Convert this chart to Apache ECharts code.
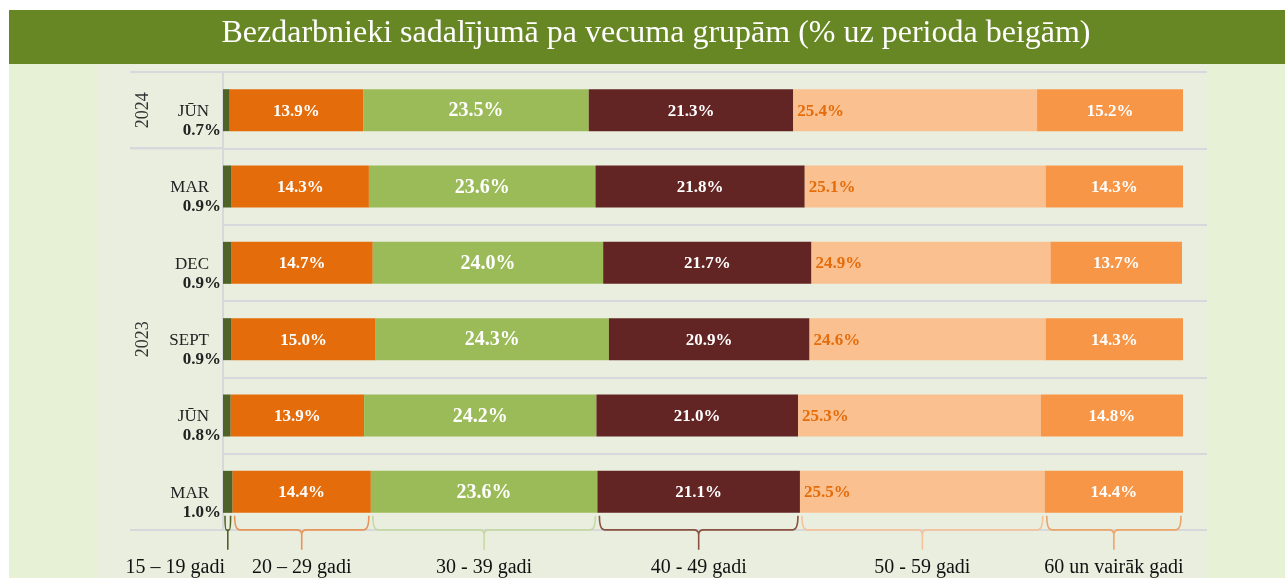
<html>
<head>
	<meta charset="utf-8">
	<script src="https://cdn.jsdelivr.net/npm/echarts@6/dist/echarts.min.js"></script>
	<style>
		body { margin: 0; background: #ffffff; }
	</style>
</head>
<body>
	<div id="main" style="width: 1285px;height:578px;"></div>
	<script type="text/javascript">
		// dati
		var periods = ['JŪN 2024', 'MAR 2024', 'DEC 2023', 'SEPT 2023', 'JŪN 2023', 'MAR 2023'];
		var months = ['JŪN', 'MAR', 'DEC', 'SEPT', 'JŪN', 'MAR'];
		var years = ['2024', '2023'];
		var yearRows = [[0, 0], [1, 5]];
		var ageGroups = ['15 – 19 gadi', '20 – 29 gadi', '30 - 39 gadi', '40 - 49 gadi', '50 - 59 gadi', '60 un vairāk gadi'];
		var s15_19 = [0.7, 0.9, 0.9, 0.9, 0.8, 1.0];
		var s20_29 = [13.9, 14.3, 14.7, 15.0, 13.9, 14.4];
		var s30_39 = [23.5, 23.6, 24.0, 24.3, 24.2, 23.6];
		var s40_49 = [21.3, 21.8, 21.7, 20.9, 21.0, 21.1];
		var s50_59 = [25.4, 25.1, 24.9, 24.6, 25.3, 25.5];
		var s60 = [15.2, 14.3, 13.7, 14.3, 14.8, 14.4];

		var colors = ['#4f6228', '#e46c0a', '#9bbb59', '#632523', '#fac090', '#f79646'];
		var braceColors = ['#4f6228', '#e8955a', '#c5d9a4', '#8a5040', '#f5c29c', '#eea468'];
		var serif = '"Liberation Serif", "Times New Roman", serif';
		var allSeries = [s15_19, s20_29, s30_39, s40_49, s50_59, s60];

		// iekavas zem pēdējās rindas
		var lastRow = periods.length - 1;
		var braceData = [];
		var acc = 0;
		allSeries.forEach(function (arr, i) {
			braceData.push([acc, acc + arr[lastRow], lastRow, i]);
			acc += arr[lastRow];
		});

		var yearData = yearRows.map(function (r, i) { return [0, r[0], r[1], i]; });

		var myChart = echarts.init(document.getElementById('main'));

		function pct(p) { return p.value.toFixed(1) + '%'; }

		function barSeries(name, arr, idx, label) {
			return {
				name: name,
				type: 'bar',
				stack: 'total',
				barWidth: 42,
				data: arr,
				itemStyle: { color: colors[idx] },
				label: label,
				emphasis: { disabled: true }
			};
		}

		var whiteLabel = function (size) {
			return {
				show: true,
				position: 'inside',
				offset: [0, 1],
				color: '#ffffff',
				fontFamily: serif,
				fontWeight: 'bold',
				fontSize: size,
				formatter: pct
			};
		};

		var option = {
			backgroundColor: '#ffffff',
			animation: false,
			title: {
				text: 'Bezdarbnieki sadalījumā pa vecuma grupām (% uz perioda beigām)',
				left: 651,
				top: 13,
				textAlign: 'center',
				textStyle: {
					color: '#ffffff',
					fontFamily: serif,
					fontWeight: 'normal',
					fontSize: 32
				}
			},
			graphic: [
				{ type: 'rect', z: -10, shape: { x: 9, y: 10, width: 1276, height: 568 }, style: { fill: '#e6f1d5' } },
				{ type: 'rect', z: -9, shape: { x: 9, y: 10, width: 1276, height: 54 }, style: { fill: '#678724' } },
				{ type: 'rect', z: -9, shape: { x: 97, y: 64, width: 1110, height: 514 }, style: { fill: '#eaeedf' } }
			],
			grid: {
				left: 223,
				right: 78,
				top: 72,
				bottom: 48
			},
			xAxis: {
				type: 'value',
				min: 0,
				max: 102.5,
				show: false
			},
			yAxis: {
				type: 'category',
				inverse: true,
				data: periods,
				axisLine: { show: true, lineStyle: { color: '#d6d9dc', width: 2 } },
				axisTick: { show: false },
				splitLine: { show: true, lineStyle: { color: '#d6d9dc', width: 2 } },
				axisLabel: {
					margin: 2,
					padding: [22, 0, 0, 0],
					formatter: function (v, i) {
						return '{m|' + months[i] + '}\n{v|' + s15_19[i].toFixed(1) + '%}';
					},
					rich: {
						m: { fontFamily: serif, fontSize: 17, color: '#222222', lineHeight: 19, padding: [0, 12, 0, 0] },
						v: { fontFamily: serif, fontSize: 17, fontWeight: 'bold', color: '#222222', lineHeight: 19 }
					}
				}
			},
			series: [
				barSeries('15 – 19', s15_19, 0, { show: false }),
				barSeries('20 – 29', s20_29, 1, whiteLabel(17)),
				barSeries('30 - 39', s30_39, 2, whiteLabel(20)),
				barSeries('40 - 49', s40_49, 3, whiteLabel(17)),
				barSeries('50 - 59', s50_59, 4, {
					show: true,
					position: 'insideLeft',
					distance: 4,
					offset: [0, 1],
					color: '#e46c0a',
					fontFamily: serif,
					fontWeight: 'bold',
					fontSize: 17,
					formatter: pct
				}),
				barSeries('60+', s60, 5, whiteLabel(17)),
				{
					// gadu grupas
					type: 'custom',
					data: yearData,
					encode: { x: 0, y: [1, 2] },
					silent: true,
					renderItem: function (params, api) {
						var band = api.size([0, 1])[1];
						var top = api.coord([0, api.value(1)])[1] - band / 2;
						var bottom = api.coord([0, api.value(2)])[1] + band / 2;
						var gx = params.coordSys.x;
						var lineStyle = { stroke: '#d6d9dc', lineWidth: 2 };
						return {
							type: 'group',
							children: [
								{ type: 'line', shape: { x1: gx - 93, y1: top, x2: gx, y2: top }, style: lineStyle },
								{ type: 'line', shape: { x1: gx - 93, y1: bottom, x2: gx, y2: bottom }, style: lineStyle },
								{
									type: 'text',
									x: gx - 80,
									y: (top + bottom) / 2,
									rotation: Math.PI / 2,
									style: {
										text: years[api.value(3)],
										fontFamily: serif,
										fontSize: 18,
										fill: '#333333',
										align: 'center',
										verticalAlign: 'middle'
									}
								}
							]
						};
					}
				},
				{
					// iekavas un vecuma grupu nosaukumi
					type: 'custom',
					data: braceData,
					encode: { x: [0, 1], y: 2 },
					silent: true,
					renderItem: function (params, api) {
						var i = api.value(3);
						var p0 = api.coord([api.value(0), api.value(2)]);
						var p1 = api.coord([api.value(1), api.value(2)]);
						var x0 = p0[0] + 2, x1 = p1[0] - 2;
						var xm = (x0 + x1) / 2;
						var base = p0[1] + 21;
						var y0 = base + 3, y1 = base + 17, y2 = base + 37;
						var r = Math.min(5, (x1 - x0) / 4);
						var path = 'M' + x0 + ',' + y0 +
							' Q' + x0 + ',' + y1 + ' ' + (x0 + r) + ',' + y1 +
							' L' + (xm - r) + ',' + y1 +
							' Q' + xm + ',' + y1 + ' ' + xm + ',' + (y1 + r) +
							' L' + xm + ',' + y2 +
							' M' + xm + ',' + (y1 + r) +
							' Q' + xm + ',' + y1 + ' ' + (xm + r) + ',' + y1 +
							' L' + (x1 - r) + ',' + y1 +
							' Q' + x1 + ',' + y1 + ' ' + x1 + ',' + y0;
						var narrow = (x1 - x0) < 30;
						return {
							type: 'group',
							children: [
								{
									type: 'path',
									shape: { pathData: path },
									style: { stroke: braceColors[i], lineWidth: 1.6, fill: null }
								},
								{
									type: 'text',
									x: narrow ? x0 : xm,
									y: base + 55,
									style: {
										text: ageGroups[i],
										fontFamily: serif,
										fontSize: 20,
										fill: '#111111',
										align: narrow ? 'right' : 'center',
										verticalAlign: 'middle'
									}
								}
							]
						};
					}
				}
			]
		};

		myChart.setOption(option);
	</script>
</body>
</html>
